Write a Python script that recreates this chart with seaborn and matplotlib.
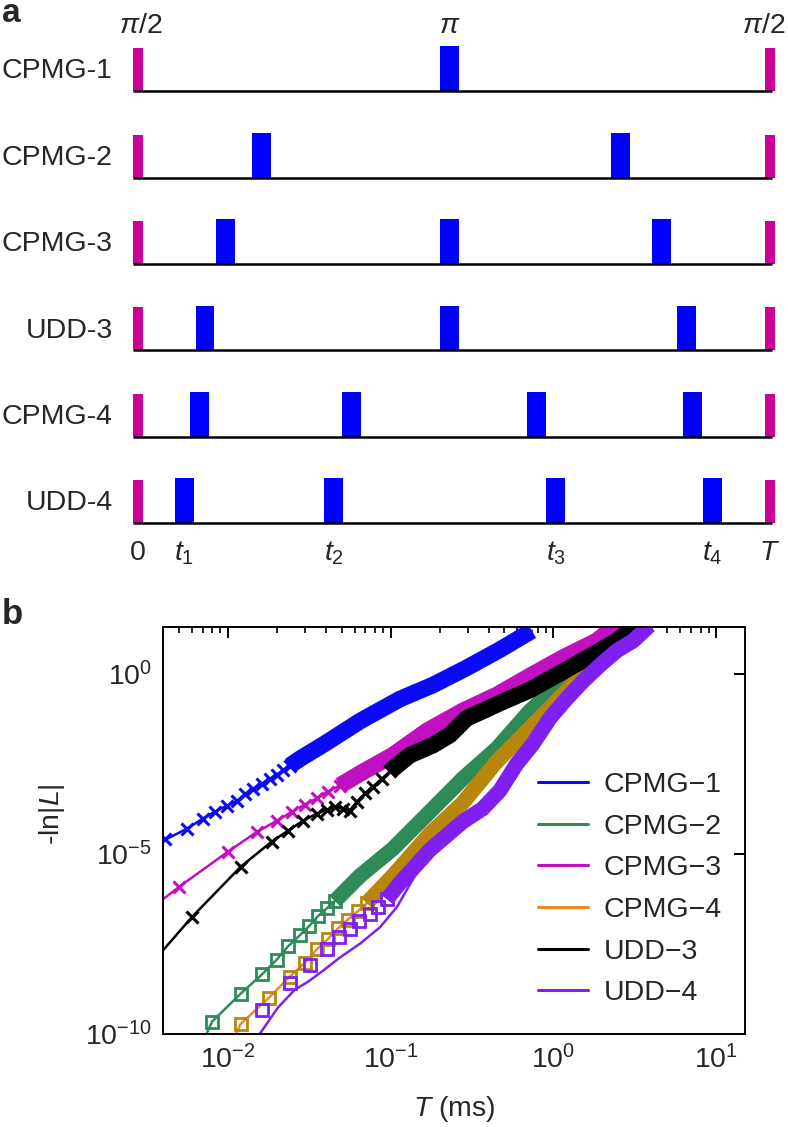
import numpy as np
import pandas as pd
import matplotlib
matplotlib.use('Agg')
import matplotlib.pyplot as plt
import seaborn as sns
from matplotlib.lines import Line2D
from matplotlib.ticker import LogLocator, NullLocator

# ---------------- panel a: pulse sequences (pulse times as fraction of T) ----------------
seq_names = ['CPMG-1', 'CPMG-2', 'CPMG-3', 'UDD-3', 'CPMG-4', 'UDD-4']
cpmg1_pulses = [0.493]
cpmg2_pulses = [0.196, 0.764]
cpmg3_pulses = [0.139, 0.493, 0.828]
udd3_pulses = [0.106, 0.493, 0.868]
cpmg4_pulses = [0.098, 0.338, 0.631, 0.877]
udd4_pulses = [0.073, 0.310, 0.661, 0.909]
edge_pulses = [0.0, 1.0]
top_labels = [r'$\pi$/2', r'$\pi$', r'$\pi$/2']
bottom_labels = ['0', '$t_1$', '$t_2$', '$t_3$', '$t_4$', '$T$']

# ---------------- panel b: -ln|L| vs T (ms) ----------------
series_names = ['CPMG\u22121', 'CPMG\u22122', 'CPMG\u22123', 'CPMG\u22124', 'UDD\u22123', 'UDD\u22124']

# CPMG-1
c1_T = [0.0040, 0.0056, 0.0070, 0.0083, 0.0099, 0.0114, 0.0127, 0.0143, 0.0162, 0.0181,
        0.0200, 0.0218, 0.0240, 0.028, 0.040, 0.065, 0.114, 0.182, 0.294, 0.469, 0.736]
c1_L = [2.3e-5, 5.0e-5, 9.5e-5, 1.48e-4, 2.2e-4, 3.0e-4, 4.5e-4, 6.4e-4, 9.0e-4, 1.2e-3,
        1.6e-3, 2.1e-3, 2.8e-3, 4.5e-3, 1.2e-2, 4.9e-2, 0.20, 0.49, 1.48, 4.7, 15.8]
c1_mT = [0.0041, 0.0056, 0.0070, 0.0083, 0.0099, 0.0114, 0.0127, 0.0143, 0.0162, 0.0181,
         0.0200, 0.0218, 0.0240]
c1_mL = [2.6e-5, 5.0e-5, 9.5e-5, 1.48e-4, 2.2e-4, 3.0e-4, 4.5e-4, 6.4e-4, 9.0e-4, 1.2e-3,
         1.6e-3, 2.1e-3, 2.8e-3]

# CPMG-2
c2_T = [0.0074, 0.0080, 0.0120, 0.0162, 0.0200, 0.0234, 0.0277, 0.0315, 0.0357, 0.0406,
        0.0454, 0.0647, 0.103, 0.174, 0.277, 0.449, 0.716, 1.14, 1.85, 2.94]
c2_L = [1.0e-10, 2.2e-10, 1.32e-9, 4.5e-9, 1.17e-8, 2.7e-8, 5.5e-8, 9.8e-8, 1.86e-7, 3.1e-7,
        4.9e-7, 2.45e-6, 1.38e-5, 1.48e-4, 1.23e-3, 8.5e-3, 9.3e-2, 0.63, 4.4, 19]
c2_mT = [0.0080, 0.0120, 0.0162, 0.0200, 0.0234, 0.0277, 0.0315, 0.0357, 0.0406, 0.0454]
c2_mL = [2.2e-10, 1.32e-9, 4.5e-9, 1.17e-8, 2.7e-8, 5.5e-8, 9.8e-8, 1.86e-7, 3.1e-7, 4.9e-7]

# CPMG-3
c3_T = [0.0040, 0.0050, 0.0100, 0.0151, 0.0200, 0.0247, 0.0297, 0.0352, 0.0411, 0.0488,
        0.0647, 0.103, 0.167, 0.277, 0.449, 0.716, 1.14, 1.85, 2.75]
c3_L = [5.5e-7, 1.2e-6, 1.15e-5, 4.1e-5, 8.3e-5, 1.48e-4, 2.34e-4, 3.5e-4, 5.4e-4, 7.9e-4,
        1.7e-3, 5.5e-3, 2.6e-2, 9.3e-2, 0.26, 0.87, 2.8, 8.3, 36]
c3_mT = [0.0050, 0.0100, 0.0151, 0.0200, 0.0247, 0.0297, 0.0352, 0.0411, 0.0488]
c3_mL = [1.2e-6, 1.15e-5, 4.1e-5, 8.3e-5, 1.48e-4, 2.34e-4, 3.5e-4, 5.4e-4, 7.9e-4]

# CPMG-4
c4_T = [0.0112, 0.0120, 0.0179, 0.0240, 0.0297, 0.0352, 0.0411, 0.0474, 0.0546, 0.0629,
        0.0713, 0.103, 0.174, 0.277, 0.449, 0.716, 1.14, 1.85, 2.94, 3.5]
c4_L = [1.0e-10, 1.9e-10, 1.02e-9, 3.9e-9, 9.5e-9, 2.24e-8, 4.3e-8, 8.5e-8, 1.51e-7, 2.57e-7,
        4.3e-7, 2.45e-6, 3.6e-5, 2.6e-4, 3.7e-3, 3.1e-2, 0.26, 2.3, 10.2, 19]
c4_mT = [0.0120, 0.0179, 0.0240, 0.0297, 0.0352, 0.0411, 0.0474, 0.0546, 0.0629, 0.0713]
c4_mL = [1.9e-10, 1.02e-9, 3.9e-9, 9.5e-9, 2.24e-8, 4.3e-8, 8.5e-8, 1.51e-7, 2.57e-7, 4.3e-7]

# UDD-3
u3_T = [0.0040, 0.0060, 0.0120, 0.0186, 0.0234, 0.0289, 0.0352, 0.0406, 0.0454, 0.0508,
        0.0561, 0.0619, 0.0695, 0.0778, 0.0883, 0.0989, 0.131, 0.182, 0.231, 0.294, 0.368,
        0.469, 0.716, 1.14, 1.75, 2.45, 3.25]
u3_L = [2.1e-8, 1.74e-7, 4.4e-6, 2.2e-5, 4.4e-5, 8.3e-5, 1.32e-4, 1.70e-4, 2.04e-4, 1.82e-4,
        1.58e-4, 2.8e-4, 4.8e-4, 7.4e-4, 1.23e-3, 1.95e-3, 5.5e-3, 1.05e-2, 2.0e-2, 5.9e-2,
        9.3e-2, 0.155, 0.355, 1.15, 3.4, 8.3, 22]
u3_mT = [0.0060, 0.0120, 0.0186, 0.0234, 0.0289, 0.0352, 0.0406, 0.0454, 0.0508, 0.0561,
         0.0619, 0.0695, 0.0778, 0.0883, 0.0989]
u3_mL = [1.74e-7, 4.4e-6, 2.2e-5, 4.4e-5, 8.3e-5, 1.32e-4, 1.70e-4, 2.04e-4, 1.82e-4, 1.58e-4,
         2.8e-4, 4.8e-4, 7.4e-4, 1.23e-3, 1.95e-3]

# UDD-4 (theory line runs below the markers at small T)
u4_T = [0.0157, 0.0203, 0.0258, 0.0310, 0.0378, 0.0487, 0.0647, 0.0858, 0.109, 0.174,
        0.277, 0.368, 0.469, 0.593, 0.744, 0.952, 1.21, 1.52, 1.94, 2.45, 3.09, 3.89]
u4_L = [1.0e-10, 5.4e-10, 1.7e-9, 2.8e-9, 5.4e-9, 1.32e-8, 3.2e-8, 9.1e-8, 3.3e-7, 1.29e-5,
        7.8e-5, 1.82e-4, 5.8e-4, 3.1e-3, 1.1e-2, 5.9e-2, 0.21, 0.63, 1.78, 4.4, 8.3, 22]
u4_bT = [0.0948, 0.114, 0.174, 0.277, 0.368, 0.469, 0.593, 0.744, 0.952, 1.21, 1.52, 1.94,
         2.45, 3.09, 3.89]
u4_bL = [5.5e-7, 1.55e-6, 1.29e-5, 7.8e-5, 1.82e-4, 5.8e-4, 3.1e-3, 1.1e-2, 5.9e-2, 0.21,
         0.63, 1.78, 4.4, 8.3, 22]
u4_mT = [0.0162, 0.0240, 0.0319, 0.0406, 0.0480, 0.0561, 0.0637, 0.0743, 0.0834, 0.0948]
u4_mL = [4.7e-10, 2.6e-9, 8.5e-9, 2.24e-8, 4.8e-8, 8.1e-8, 1.35e-7, 2.1e-7, 3.3e-7, 5.5e-7]

# dense-marker region starts (ms)
band_start = {'c1': 0.024, 'c2': 0.045, 'c3': 0.048, 'c4': 0.071, 'u3': 0.098}

sns.set_theme(style='white')
plt.rcParams['font.family'] = ['Liberation Sans', 'DejaVu Sans']
plt.rcParams['mathtext.fontset'] = 'custom'
plt.rcParams['mathtext.rm'] = 'Liberation Sans'
plt.rcParams['mathtext.it'] = 'Liberation Sans:italic'
plt.rcParams['mathtext.bf'] = 'Liberation Sans:bold'

W, H = 788, 1127
fig = plt.figure(figsize=(W / 100, H / 100), dpi=100)
fs = 20.5

# ---------------- panel a ----------------
axa = fig.add_axes([120 / W, (H - 575) / H, 668 / W, 570 / H])
axa.set_xlim(-0.0285, 1.0285)
axa.set_ylim(-0.6, 6.0)
axa.axis('off')

pulse_lists = [cpmg1_pulses, cpmg2_pulses, cpmg3_pulses, udd3_pulses, cpmg4_pulses, udd4_pulses]
for i, (name, pulses) in enumerate(zip(seq_names, pulse_lists)):
    y0 = len(seq_names) - 1 - i
    axa.plot([-0.008, 1.003], [y0, y0], color='black', lw=1.8, solid_capstyle='butt')
    axa.bar(edge_pulses, 0.5, width=0.016, bottom=y0, color='#CC0099', linewidth=0)
    axa.bar(pulses, 0.52, width=0.030, bottom=y0, color='#0000FF', linewidth=0)
    axa.text(-0.04, y0 + 0.23, name, ha='right', va='center', fontsize=fs)

axa.text(-0.03, 5.68, top_labels[0], ha='left', va='baseline', fontsize=fs)
axa.text(0.493, 5.68, top_labels[1], ha='center', va='baseline', fontsize=fs)
axa.text(1.025, 5.68, top_labels[2], ha='right', va='baseline', fontsize=fs)
for t, lab in zip([0.0] + udd4_pulses + [1.0], bottom_labels):
    axa.text(t, -0.43, lab, ha='center', va='baseline', fontsize=fs)

fig.text(2 / W, 1 - 22 / H, 'a', fontsize=24, fontweight='bold', va='baseline')
fig.text(2 / W, 1 - 624 / H, 'b', fontsize=25, fontweight='bold', va='baseline')

# ---------------- panel b ----------------
ax = fig.add_axes([163 / W, (H - 1034) / H, 582 / W, 407 / H])
ax.set_xscale('log')
ax.set_yscale('log')

blue, green, magenta = '#0A0AF5', '#2E8B57', '#C010C0'
orange, gold, black, purple = '#E8892A', '#B8860B', '#000000', '#7F1FF0'

series = [
    (c1_T, c1_L, c1_mT, c1_mL, None, None, band_start['c1'], blue, blue, 'x'),
    (c2_T, c2_L, c2_mT, c2_mL, None, None, band_start['c2'], green, green, 's'),
    (c3_T, c3_L, c3_mT, c3_mL, None, None, band_start['c3'], magenta, magenta, 'x'),
    (c4_T, c4_L, c4_mT, c4_mL, None, None, band_start['c4'], orange, gold, 's'),
    (u3_T, u3_L, u3_mT, u3_mL, None, None, band_start['u3'], black, black, 'x'),
    (u4_T, u4_L, u4_mT, u4_mL, u4_bT, u4_bL, None, purple, purple, 's'),
]

for T, L, mT, mL, bT, bL, b0, lc, mc, mk in series:
    df = pd.DataFrame({'T': T, 'L': L})
    sns.lineplot(data=df, x='T', y='L', color=lc, lw=1.8, estimator=None,
                 legend=False, ax=ax)
    if bT is None:
        band = df[df['T'] >= b0]
    else:
        band = pd.DataFrame({'T': bT, 'L': bL})
    sns.lineplot(data=band, x='T', y='L', color=mc, lw=12 if mk == 'x' else 11,
                 estimator=None, legend=False, ax=ax, solid_capstyle='butt',
                 solid_joinstyle='round')
    mdf = pd.DataFrame({'T': mT, 'L': mL})
    if mk == 'x':
        sns.lineplot(data=mdf, x='T', y='L', color=mc, linestyle='', marker='x',
                     markersize=9, markeredgewidth=2.2, markeredgecolor=mc,
                     estimator=None, legend=False, ax=ax)
    else:
        sns.lineplot(data=mdf, x='T', y='L', color=mc, linestyle='', marker='s',
                     markersize=9, markeredgewidth=2, markerfacecolor='none',
                     markeredgecolor=mc, estimator=None, legend=False, ax=ax)

ax.set_xlim(0.004, 15)
ax.set_ylim(1e-10, 20)
ax.set_yticks([1e-10, 1e-5, 1])
ax.yaxis.set_minor_locator(NullLocator())
ax.xaxis.set_major_locator(LogLocator(base=10, numticks=10))
ax.xaxis.set_minor_locator(LogLocator(base=10, subs=np.arange(2, 10), numticks=20))
ax.tick_params(which='both', direction='in', top=True, right=True, color='black')
ax.tick_params(which='major', length=8, width=1.4, labelsize=fs, pad=8)
ax.tick_params(which='minor', length=4, width=1.2)
for sp in ax.spines.values():
    sp.set_color('black')
    sp.set_linewidth(1.4)

ax.set_xlabel('$T$ (ms)', fontsize=fs)
ax.xaxis.set_label_coords(0.5, -0.148)
ax.set_ylabel('-ln|$L$|', fontsize=fs)
ax.yaxis.set_label_coords(-0.165, 0.54)

handles = [Line2D([], [], color=c, lw=2.2) for c in [blue, green, magenta, orange, black, purple]]
ax.legend(handles, series_names, loc='center left', bbox_to_anchor=(0.644, 0.356),
          frameon=False, fontsize=fs, handlelength=1.75, handletextpad=0.55,
          labelspacing=0.55, borderpad=0, borderaxespad=0)

fig.savefig('out.png', dpi=100)
